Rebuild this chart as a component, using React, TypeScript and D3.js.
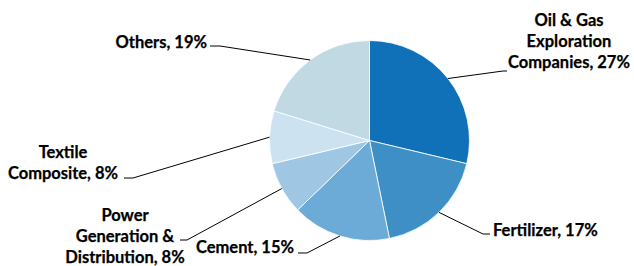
import React from "react";
import * as d3 from "d3";

const categories = [
  "Oil & Gas Exploration Companies",
  "Fertilizer",
  "Cement",
  "Power Generation & Distribution",
  "Textile Composite",
  "Others",
];
const shares = [27, 17, 15, 8, 8, 19];
const colors = ["#1071B8", "#3F8FC7", "#6CAAD7", "#9FC6E2", "#CCE2F1", "#C1D9E3"];

// label layout: text lines, anchor point, text-anchor, elbow point of leader
const labelLines = [
  ["Oil & Gas", "Exploration", "Companies, 27%"],
  ["Fertilizer, 17%"],
  ["Cement, 15%"],
  ["Power", "Generation &", "Distribution, 8%"],
  ["Textile", "Composite, 8%"],
  ["Others, 19%"],
];
const labelLayout = [
  { x: 569, y: 20, anchor: "middle", elbow: [503, 71], tail: [507, 71] },
  { x: 493, y: 230, anchor: "start", elbow: [483, 234], tail: [490, 234] },
  { x: 294, y: 247, anchor: "end", elbow: [307, 253], tail: [298, 253] },
  { x: 125, y: 215, anchor: "middle", elbow: [187, 240], tail: [180, 240] },
  { x: 63, y: 152, anchor: "middle", elbow: [133, 178], tail: [124, 178] },
  { x: 207, y: 42, anchor: "end", elbow: [220, 46], tail: [210, 46] },
];

const W = 634;
const H = 266;
const cx = 369.5;
const cy = 140.5;
const R = 100;
const lineH = 21;

export default function App() {
  const pie = d3.pie<number>().sort(null).value((d) => d);
  const arcs = pie(shares);
  const arc = d3.arc<d3.PieArcDatum<number>>().innerRadius(0).outerRadius(R);
  const edge = d3.arc<d3.PieArcDatum<number>>().innerRadius(R).outerRadius(R);

  return (
    <svg
      width={W}
      height={H}
      style={{ position: "absolute", left: 0, top: 0, background: "#fff" }}
      fontFamily="Lato, 'Open Sans', sans-serif"
    >
      <g transform={`translate(${cx},${cy})`}>
        {arcs.map((a, i) => (
          <path key={categories[i]} d={arc(a) || ""} fill={colors[i]} stroke="#fff" strokeWidth={0.8} />
        ))}
      </g>
      {arcs.map((a, i) => {
        const [ex, ey] = edge.centroid(a);
        const L = labelLayout[i];
        const pts = [
          [cx + ex, cy + ey],
          L.elbow,
          L.tail,
        ];
        return (
          <polyline
            key={"l" + i}
            points={pts.map((p) => p.join(",")).join(" ")}
            fill="none"
            stroke="#000"
            strokeWidth={1}
          />
        );
      })}
      {labelLayout.map((L, i) => (
        <text
          key={"t" + i}
          x={L.x}
          y={L.y}
          textAnchor={L.anchor as any}
          fontWeight="bold"
          fontSize={16.5}
          fill="#000"
          stroke="#000"
          strokeWidth={0.25}
          dominantBaseline="central"
        >
          {labelLines[i].map((s, j) => (
            <tspan key={j} x={L.x} y={L.y + j * lineH}>
              {s}
            </tspan>
          ))}
        </text>
      ))}
    </svg>
  );
}
